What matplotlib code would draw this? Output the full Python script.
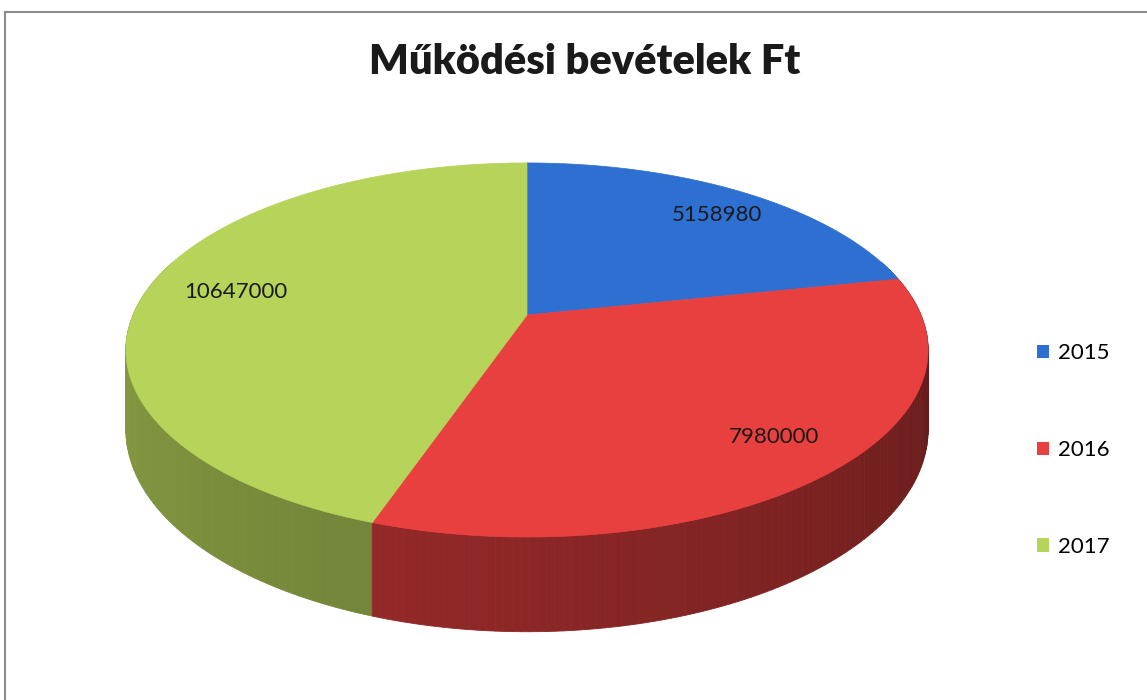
import numpy as np
import matplotlib
matplotlib.use("Agg")
from matplotlib import pyplot as plt
from matplotlib.patches import Polygon, Patch

plt.rcParams['font.family'] = ['Lato', 'DejaVu Sans']

# data
years = ['2015', '2016', '2017']
values = [5158980, 7980000, 10647000]
colors = ['#2e6fd2', '#e8403f', '#b6d35a']
title = 'Működési bevételek Ft'

# pie geometry (pixels), perspective factor k
cx, cy = 527, 315
A, B = 394, 180.5
k = 0.187
H = 77


def proj(phi, r=1.0, drop=0.0):
    s, c = np.sin(phi) * r, np.cos(phi) * r
    d = 1 + k * c
    return cx + A * s / d, cy - B * c / d + drop / d


def shade(col, f):
    rgb = np.array(matplotlib.colors.to_rgb(col))
    return tuple(rgb * f)


fig = plt.figure(figsize=(11.47, 7), dpi=100)
ax = fig.add_axes([0, 0, 1, 1])
ax.set_xlim(0, 1147)
ax.set_ylim(700, 0)
ax.axis('off')

total = sum(values)
bounds = np.concatenate([[0], np.cumsum(values) / total * 2 * np.pi])

# side wall, drawn back to front
pieces = []
for i in range(len(values)):
    n = max(int((bounds[i + 1] - bounds[i]) / np.radians(1)), 2)
    ph = np.linspace(bounds[i], bounds[i + 1], n + 1)
    for a0, a1 in zip(ph[:-1], ph[1:]):
        mid = 0.5 * (a0 + a1)
        pieces.append((np.cos(mid), i, a0, a1, mid))
pieces.sort(key=lambda p: -p[0])
for _, i, a0, a1, mid in pieces:
    if np.cos(mid) > 0.3:
        continue
    deg = np.degrees(mid) % 360
    t = np.clip((deg - 90) / 180, 0, 1)
    f = 0.38 + 0.36 * t ** 0.7
    x0, y0 = proj(a0)
    x1, y1 = proj(a1)
    x2, y2 = proj(a1, drop=H)
    x3, y3 = proj(a0, drop=H)
    c = shade(colors[i], f)
    ax.add_patch(Polygon([(x0, y0), (x1, y1), (x2, y2), (x3, y3)],
                         closed=True, facecolor=c, edgecolor=c, lw=0.6))

# top face
for i in range(len(values)):
    ph = np.linspace(bounds[i], bounds[i + 1], 200)
    pts = [(cx, cy)] + [proj(p) for p in ph]
    ax.add_patch(Polygon(pts, closed=True, facecolor=colors[i],
                         edgecolor=colors[i], lw=0.5))

# value labels
for i, v in enumerate(values):
    mid = 0.5 * (bounds[i] + bounds[i + 1])
    lx, ly = proj(mid, r=0.8)
    ax.text(lx + 12, ly, str(v), ha='center', va='center', fontsize=16,
            color='#1a1a1a')

ax.text(585, 62, title, ha='center', va='center', fontsize=30,
        fontweight='heavy', color='#1a1a1a')

# frame
ax.plot([5, 1147], [12, 12], color='#8c8c8c', lw=1.5)
ax.plot([5, 5], [12, 700], color='#8c8c8c', lw=1.5)

handles = [Patch(facecolor=c, edgecolor='none') for c in colors]
fig.legend(handles, years, loc='center left', bbox_to_anchor=(0.904, 0.357),
           frameon=False, fontsize=16, handlelength=0.55, handleheight=0.55,
           handletextpad=0.4, labelspacing=3.45, borderpad=0, borderaxespad=0)

fig.savefig('out.png', dpi=100)
